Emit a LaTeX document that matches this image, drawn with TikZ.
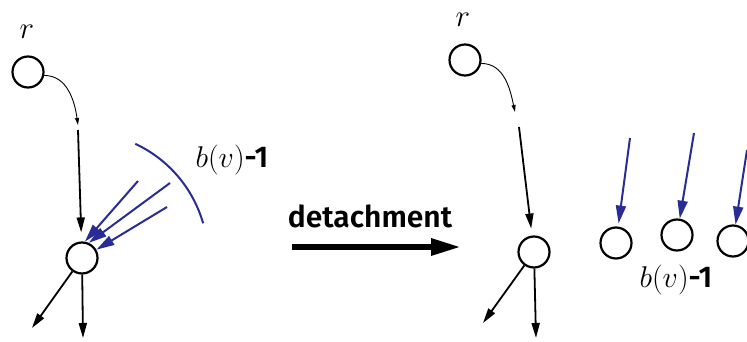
\documentclass[tikz,border=0pt]{standalone}
\usepackage{fix-cm}
\usepackage{fontspec}
\setsansfont{Fira Sans}[BoldFont={Fira Sans SemiBold}]
\usetikzlibrary{arrows.meta, positioning}
\definecolor{edgeblue}{RGB}{42,44,150}

\tikzset{
  vtx/.style={circle, draw, line width=2.2pt, minimum size=31pt, inner sep=0pt},
  tree/.style={line width=1.8pt, -{Triangle[length=15pt,width=8pt]}},
  pathto/.style={line width=0.9pt, -{Triangle[length=7pt,width=4pt]}},
  extra/.style={edgeblue, line width=2pt, -{Triangle[length=18pt,width=10pt]}},
  move/.style={line width=6pt, -{Triangle[length=30pt,width=16pt]}},
  rlbl/.style={font=\fontsize{31}{34}\selectfont},
  blbl/.style={font=\fontsize{30}{34}\selectfont\sffamily\bfseries},
}

\begin{document}
\begin{tikzpicture}[x=1pt, y=1pt]
  \useasboundingbox (0,0) rectangle (747,341);

  % before detachment
  \node[rlbl] (rlabL) at (27,309) {$r$};
  \node[vtx] (rL) at (28,269) {};
  \node[vtx] (vL) at (82,83) {};
  \coordinate (pL) at (78,216);
  \coordinate (sL) at (78,211);
  \coordinate (oL1) at (32,13);
  \coordinate (oL2) at (83,3);
  \draw[pathto] (rL.-12) to[out=0, in=98] (pL);
  \draw[tree, shorten >=9pt] (sL) -- (vL);
  \draw[tree] (vL) -- (oL1);
  \draw[tree] (vL) -- (oL2);

  \coordinate (bL1) at (138,160);
  \coordinate (bL2) at (170,158);
  \coordinate (bL3) at (167,134);
  \draw[extra] (bL1) -- (vL.80);
  \draw[extra] (bL2) -- (vL.66);
  \draw[extra] (bL3) -- (vL.30);
  \draw[edgeblue, line width=2pt] (vL) ++(65:126) arc[start angle=65, end angle=16, radius=126];
  \node[blbl] (bvL) at (232,181) {$b\mathbf{(}v\mathbf{)}$-1};

  % detachment step
  \node[blbl] (step) at (370,125) {detachment};
  \coordinate (dL) at (292,94);
  \coordinate (dR) at (461,94);
  \draw[move] (dL) -- (dR);

  % after detachment
  \node[rlbl] (rlabR) at (463,321) {$r$};
  \node[vtx] (rR) at (465,281) {};
  \node[vtx] (vR) at (534,89) {};
  \coordinate (pR) at (515,229);
  \coordinate (sR) at (519,214);
  \coordinate (oR1) at (483,18);
  \coordinate (oR2) at (536,3);
  \draw[pathto] (rR.-12) to[out=0, in=102] (pR);
  \draw[tree, shorten >=7pt] (sR) -- (vR);
  \draw[tree] (vR) -- (oR1);
  \draw[tree] (vR) -- (oR2);

  \node[vtx] (w1) at (616,98) {};
  \node[vtx] (w2) at (677,106) {};
  \node[vtx] (w3) at (733,100) {};
  \coordinate (tR1) at (630,203);
  \coordinate (tR2) at (694,208);
  \coordinate (tR3) at (747,191);
  \draw[extra, shorten >=3pt] (tR1) -- (w1);
  \draw[extra] (tR2) -- (w2);
  \draw[extra] (tR3) -- (w3);
  \node[blbl] (bvR) at (676,61) {$b\mathbf{(}v\mathbf{)}$-1};
\end{tikzpicture}
\end{document}
